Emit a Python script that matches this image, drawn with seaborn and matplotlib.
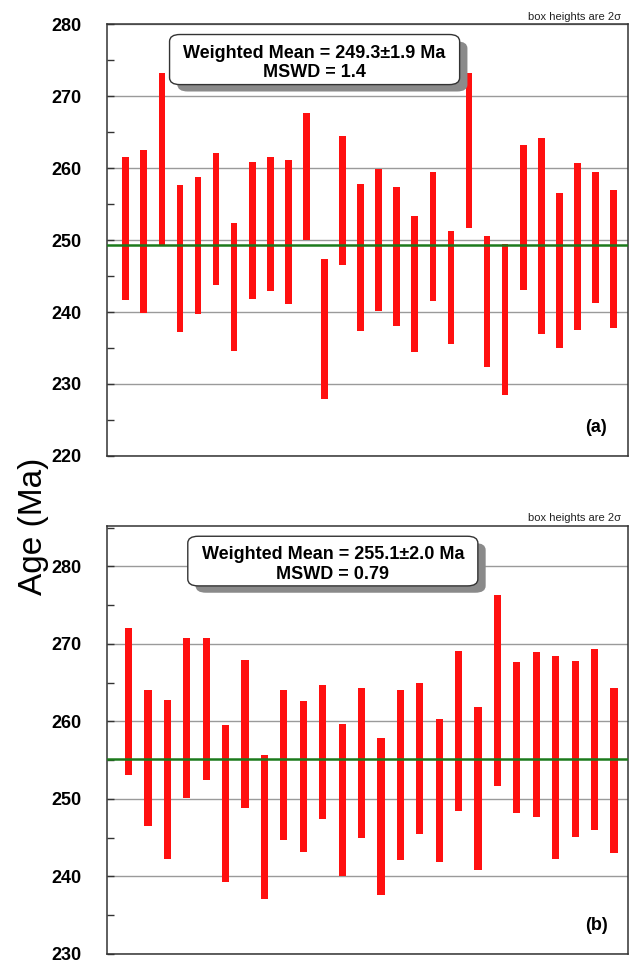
import numpy as np
import seaborn as sns
import matplotlib.pyplot as plt
from matplotlib.patches import FancyBboxPatch
from matplotlib.ticker import MultipleLocator

# ---- data: 2-sigma age boxes (Ma) ----
lo_a = [241.7, 239.9, 249.3, 237.2, 239.7, 243.7, 234.6, 241.8, 242.9, 241.1,
        250.0, 227.9, 246.5, 237.3, 240.2, 238.1, 234.4, 241.5, 235.6, 251.7,
        232.3, 228.4, 243.1, 237.0, 235.0, 237.5, 241.2, 237.8]
hi_a = [261.6, 262.5, 273.2, 257.6, 258.8, 262.1, 252.4, 260.8, 261.6, 261.1,
        267.7, 247.3, 264.5, 257.8, 259.9, 257.4, 253.3, 259.4, 251.2, 273.2,
        250.5, 249.5, 263.2, 264.2, 256.6, 260.7, 259.4, 256.9]
mean_a = 249.3
label_a = "Weighted Mean = 249.3±1.9 Ma\nMSWD = 1.4"

lo_b = [253.1, 246.5, 242.2, 250.1, 252.4, 239.3, 248.8, 237.1, 244.7, 243.1,
        247.4, 240.0, 244.9, 237.6, 242.1, 245.5, 241.8, 248.4, 240.8, 251.6,
        248.2, 247.6, 242.3, 245.1, 246.0, 243.0]
hi_b = [272.1, 264.1, 262.7, 270.7, 270.8, 259.5, 267.9, 255.7, 264.1, 262.6,
        264.7, 259.6, 264.3, 257.8, 264.1, 265.0, 260.3, 269.1, 261.8, 276.3,
        267.7, 268.9, 268.4, 267.8, 269.3, 264.3]
mean_b = 255.1
label_b = "Weighted Mean = 255.1±2.0 Ma\nMSWD = 0.79"

sns.set_style("white")
plt.rcParams['font.family'] = ['Liberation Sans', 'DejaVu Sans']

fig = plt.figure(figsize=(6.32, 9.66), dpi=100)
ax_a = fig.add_axes([0.169, 0.528, 0.824, 0.447])
ax_b = fig.add_axes([0.169, 0.0125, 0.824, 0.443])


def panel(ax, lo, hi, mean, label, ylim, xlim, box_x, tag):
    lo = np.array(lo)
    hi = np.array(hi)
    x = np.arange(1, len(lo) + 1)
    ax.set_xlim(*xlim)
    ax.set_ylim(*ylim)
    ax.yaxis.set_major_locator(MultipleLocator(10))
    ax.yaxis.set_minor_locator(MultipleLocator(5))
    ax.set_xticks([])
    ax.grid(axis='y', which='major', color='#9a9a9a', lw=1.0, zorder=0)
    ax.tick_params(axis='y', which='both', direction='in', length=5,
                   width=1, color='#333333', left=True, pad=18,
                   labelcolor='black')
    for lab in ax.get_yticklabels():
        lab.set_fontweight('bold')
        lab.set_fontsize(13)
    for s in ax.spines.values():
        s.set_color('#333333')
        s.set_linewidth(1.1)

    ax.bar(x, hi - lo, bottom=lo, width=0.37, color='#ff1010', lw=0, zorder=3)
    ax.axhline(mean, color='#1c7a1c', lw=1.8, zorder=4)

    # label box with drop shadow
    w, h = 0.557, 0.116
    cy = 0.918
    shadow = FancyBboxPatch((box_x - w / 2 + 0.015, cy - h / 2 - 0.016), w, h,
                            boxstyle="round,pad=0,rounding_size=0.02",
                            transform=ax.transAxes, fc='#8a8a8a', ec='none',
                            zorder=5, clip_on=False, mutation_aspect=0.8)
    box = FancyBboxPatch((box_x - w / 2, cy - h / 2), w, h,
                         boxstyle="round,pad=0,rounding_size=0.02",
                         transform=ax.transAxes, fc='white', ec='#333333',
                         lw=1.0, zorder=6, clip_on=False, mutation_aspect=0.8)
    ax.add_patch(shadow)
    ax.add_patch(box)
    ax.text(box_x, cy - 0.008, label, transform=ax.transAxes, ha='center',
            va='center', fontsize=13, fontweight='bold', color='black',
            linespacing=1.2, zorder=7)

    ax.text(0.988, 1.006, "box heights are 2σ", transform=ax.transAxes,
            ha='right', va='bottom', fontsize=8, color='#222222')
    ax.text(0.94, 0.066, tag, transform=ax.transAxes, ha='center', va='center',
            fontsize=13, fontweight='bold', color='black')


panel(ax_a, lo_a, hi_a, mean_a, label_a, (220, 280), (-0.05, 28.78), 0.399, "(a)")
panel(ax_b, lo_b, hi_b, mean_b, label_b, (230, 285.2), (-0.12, 26.7), 0.434, "(b)")

fig.text(0.053, 1 - 526 / 966, "Age (Ma)", rotation=90, ha='center', va='center',
         fontsize=24, color='black')

fig.savefig("out.png", dpi=100)
